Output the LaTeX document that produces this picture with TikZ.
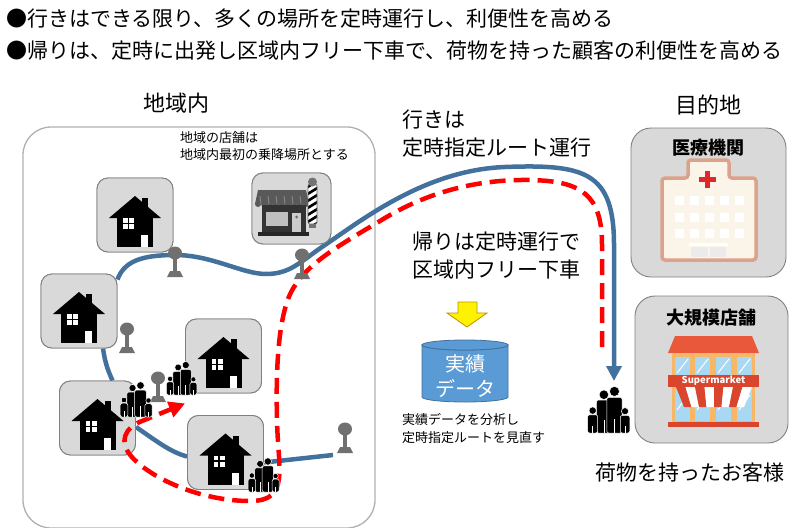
\documentclass[tikz,border=0pt]{standalone}
\usepackage{fontspec}
\setmainfont{Noto Sans CJK JP}
\usetikzlibrary{arrows.meta}

\definecolor{routeblue}{HTML}{41719C}
\definecolor{boxgray}{HTML}{D9D9D9}
\definecolor{edgegray}{HTML}{808080}
\definecolor{regiongray}{HTML}{B0B0B0}
\definecolor{stopgray}{HTML}{707070}
\definecolor{dbfill}{HTML}{5B9BD5}
\definecolor{dbedge}{HTML}{41719C}
\definecolor{arrowedge}{HTML}{BF9000}
\definecolor{hospfill}{HTML}{FBF4E8}
\definecolor{hospedge}{HTML}{DDA28C}
\definecolor{crossred}{HTML}{E3262A}
\definecolor{roofred}{HTML}{E9583B}
\definecolor{wallorange}{HTML}{F6B868}
\definecolor{glass}{HTML}{A9D9F2}
\definecolor{signred}{HTML}{DA452D}

% one figure of a family: x, head y, head radius, half width, top of body
\newcommand{\personshape}[5]{%
  \filldraw[black, draw=white, line width=0.5pt] (#1,#2) circle (#3);
  \filldraw[black, draw=white, line width=0.5pt, rounded corners=2pt]
    (#1-#4,0) rectangle (#1+#4,#5);
  \draw[white, line width=0.6pt] (#1,0) -- (#1,#5*0.4);
}

\begin{document}
\begin{tikzpicture}[x=1pt, y=-1pt,
    headline/.style={inner sep=0pt, anchor=west, font=\fontsize{21}{25}\selectfont},
    heading/.style={inner sep=0pt, font=\fontsize{22}{26}\selectfont},
    caption/.style={inner sep=0pt, align=left, anchor=west, font=\fontsize{21}{28}\selectfont},
    note/.style={inner sep=0pt, align=left, anchor=west, font=\fontsize{13}{17.5}\selectfont},
    tilelabel/.style={inner sep=0pt, font=\bfseries\fontsize{18}{20}\selectfont},
    region/.style={draw=regiongray, line width=1.3pt, rounded corners=28pt},
    tile/.style={draw=edgegray, fill=boxgray, line width=0.9pt, rounded corners=11pt,
                 minimum width=76pt, minimum height=74pt, inner sep=0pt},
    bigtile/.style={tile, rounded corners=20pt},
    outbound/.style={draw=routeblue, line width=4.5pt},
    inbound/.style={draw=red, line width=4.5pt, dash pattern=on 16pt off 8pt},
    house/.pic={
      \fill (-26,3) -- (0,-19) -- (26,3) -- cycle;
      \fill (7,-17) rectangle (13,-6);
      \fill (-18,-2) rectangle (18,32);
      \fill[white] (-12,3) rectangle (-1,14);
      \draw[line width=1.3pt] (-6.5,3) -- (-6.5,14) (-12,8.5) -- (-1,8.5);
      \fill[white] (6,20) rectangle (13,32);
    },
    busstop/.pic={
      \fill[stopgray] (0,0) ellipse [x radius=7, y radius=6.5];
      \fill[stopgray] (-2,4) rectangle (2,19);
      \fill[stopgray] (-5,18) -- (5,18) -- (8,24) -- (-8,24) -- cycle;
    },
    family/.pic={
      \personshape{-3.5}{-29}{3.6}{5.6}{-25}
      \personshape{4.5}{-31.5}{3.8}{5.8}{-27}
      \personshape{-12}{-17}{2.8}{3.8}{-13.8}
      \personshape{12.5}{-16.5}{2.7}{3.6}{-13.3}
    }
  ]
  \useasboundingbox (0,0) rectangle (791,527);

  % aims of the service
  \node[headline] (aim1) at (6,19) {●行きはできる限り、多くの場所を定時運行し、利便性を高める};
  \node[headline] (aim2) at (6,51) {●帰りは、定時に出発し区域内フリー下車で、荷物を持った顧客の利便性を高める};

  % service area
  \draw[region] (23,127) rectangle (375,528);
  \node[heading] (area) at (176,103) {地域内};
  \node[note] (shopnote) at (180,146) {地域の店舗は\\地域内最初の乗降場所とする};

  \coordinate (dest) at (614,381);
  \coordinate (pickup) at (602,347);
  \coordinate (lastpole) at (333,455);

  % tiles in the area
  \node[tile] (h1) at (135,215) {};
  \node[tile, minimum width=79pt, minimum height=71pt] (shop) at (291.5,208.5) {};
  \node[tile] (h2) at (79,311) {};
  \node[tile] (h3) at (223.5,356) {};
  \node[tile] (h4) at (97.5,418) {};
  \node[tile] (h5) at (225.5,452.5) {};

  % outbound route (fixed route)
  \draw[outbound, -{Triangle[length=15pt, width=15pt]}]
    ([yshift=-6pt]h2.north east) .. controls (124,262) and (140,255) .. (175,255)
    .. controls (212,255) and (242,274) .. (266,274)
    .. controls (290,274) and (300,262) .. (322,247)
    .. controls (362,220) and (425,170) .. (505,167)
    .. controls (585,164) and (614,172) .. (614,245) -- (dest);
  \draw[outbound] ([xshift=24pt]h2.south) to[bend right=8] ([xshift=15pt]h4.north);
  \draw[outbound] ([yshift=-9pt]h4.east) .. controls (155,440) and (170,452) .. ([yshift=-4pt]h5.west);
  \draw[outbound] ([yshift=-10pt]h5.east) -- (lastpole);

  % tiles again on top of the route ends
  \foreach \t in {h1,h2,h3,h4,h5} {
    \node[tile] at (\t) {};
    \pic at (\t) {house};
  }
  \node[tile, minimum width=79pt, minimum height=71pt] at (shop) {};

  % barber shop
  \fill[black!65] (258,190) -- (306,190) -- (309,204) -- (255,204) -- cycle;
  \foreach \x in {258,264,...,306}
    \fill[black!65] (\x,204) circle (3);
  \foreach \x in {260,268,...,300}
    \draw[black!45, line width=0.8pt] (\x,196) -- (\x+1,204);
  \fill[black!80] (262,205) rectangle (306,233);
  \fill[black!25] (266,212) rectangle (288,226);
  \fill[black!20] (292,213) rectangle (301,233);
  \fill[black!60] (296.5,217) circle (1.5);
  \fill[black!85] (258,232) rectangle (309,236);
  \begin{scope}
    \clip[rounded corners=2pt] (308,184) rectangle (317,224);
    \fill[white] (308,184) rectangle (317,224);
    \foreach \k in {0,...,6}
      \draw[black, line width=2.6pt] (306,188+\k*7) -- (319,180+\k*7);
  \end{scope}
  \draw[black!60, line width=0.6pt, rounded corners=2pt] (308,184) rectangle (317,224);
  \fill[black!55] (312.5,182) circle (4.5);
  \fill[black!55] (309,224) rectangle (316,228);

  % return route, free drop-off
  \draw[inbound, -{Triangle[length=16pt, width=16pt]}]
    (pickup) -- (602,245) .. controls (602,195) and (582,181) .. (530,180)
    .. controls (470,179) and (420,196) .. (380,221)
    .. controls (335,248) and (298,268) .. (287,302)
    .. controls (277,332) and (276,380) .. (277,420)
    .. controls (278,470) and (290,501) .. (250,501)
    .. controls (200,501) and (150,478) .. (131,456)
    .. controls (119,442) and (124,428) .. (142,421)
    -- ([yshift=-10pt]h3.south west);

  % bus stops
  \pic at (175,253) {busstop};
  \pic at (302,255) {busstop};
  \pic at (127,329) {busstop};
  \pic at (158,378) {busstop};
  \pic at (345,429) {busstop};

  % passengers
  \pic at (136,417) {family};
  \pic[scale=0.95] at (181.5,395) {family};
  \pic[scale=0.97] at (263.5,492) {family};
  \pic[scale=1.32] at (608.5,433) {family};

  % route labels
  \node[caption] (outlabel) at (402,134) {行きは\\定時指定ルート運行};
  \node[caption] (backlabel) at (412,256) {帰りは定時運行で\\区域内フリー下車};

  % records
  \filldraw[fill=yellow, draw=arrowedge, line width=0.8pt]
    (458,302) -- (477,302) -- (477,313) -- (487,313) -- (467,327) -- (447,313) -- (458,313) -- cycle;
  \filldraw[fill=dbfill, draw=dbedge, line width=0.8pt]
    (422,345) -- (422,397) arc[start angle=180, end angle=0, x radius=43, y radius=5]
    -- (508,345) arc[start angle=0, end angle=180, x radius=43, y radius=5] -- cycle;
  \filldraw[fill=dbfill, draw=dbedge, line width=0.8pt] (465,345) ellipse [x radius=43, y radius=5];
  \node[inner sep=0pt, align=center, text=white, font=\fontsize{20}{25}\selectfont] (db) at (465,376) {実績\\データ};
  \node[note] (dbnote) at (402,428.5) {実績データを分析し\\定時指定ルートを見直す};

  % destinations
  \node[heading] (goal) at (708,105) {目的地};
  \node[bigtile, minimum width=155pt, minimum height=149pt] (clinic) at (708.5,202.5) {};
  \node[bigtile, minimum width=153pt, minimum height=147pt] (market) at (711.5,369.5) {};
  \node[tilelabel] (cliniclabel) at (708,148) {医療機関};
  \node[tilelabel] (marketlabel) at (711,318) {大規模店舗};

  % hospital
  \filldraw[fill=hospfill, draw=hospedge, line width=3.5pt, rounded corners=3pt]
    (662,260) -- (662,178) -- (688,178) -- (688,160) -- (729,160) -- (729,178)
    -- (756,178) -- (756,260) -- cycle;
  \fill[crossred] (704.5,171) rectangle (709.5,188);
  \fill[crossred] (698.5,177) rectangle (715.5,182);
  \foreach \x in {679,694,709,724,739}
    \foreach \y in {200,217,233}
      \fill[white] (\x-4.5,\y-4.5) rectangle (\x+4.5,\y+4.5);
  \fill[white] (689,243) rectangle (728,246);
  \fill[white!92!black] (691,247) rectangle (708,257);
  \fill[white!92!black] (710,247) rectangle (726,257);

  % supermarket
  \fill[roofred] (675,336) -- (752,336) -- (759,353) -- (668,353) -- cycle;
  \fill[wallorange] (672,353) rectangle (755,423);
  \foreach \x in {675,695,716,737} {
    \fill[glass] (\x,357) rectangle (\x+15,375);
    \fill[glass] (\x,389) rectangle (\x+15,421);
    \draw[white, line width=1pt] (\x+2,373) -- (\x+13,359);
    \draw[white, line width=1pt] (\x+2,410) -- (\x+13,395);
  }
  \foreach \i in {0,...,7} {
    \pgfmathsetmacro{\tl}{676+\i*9.5}
    \pgfmathsetmacro{\bl}{684+\i*7.5}
    \ifodd\i
      \fill[white] (\tl,387) -- (\tl+9.5,387) -- (\bl+7.5,407) -- (\bl,407) -- cycle;
    \else
      \fill[signred] (\tl,387) -- (\tl+9.5,387) -- (\bl+7.5,407) -- (\bl,407) -- cycle;
    \fi
  }
  \fill[signred] (668,375) rectangle (759,387);
  \node[inner sep=0pt, text=white, font=\bfseries\fontsize{9.5}{10}\selectfont] (sign) at (713.5,381) {Supermarket};
  \fill[signred] (668,422) rectangle (759,427);

  \node[heading, font=\fontsize{21}{25}\selectfont] (customers) at (690,473) {荷物を持ったお客様};
\end{tikzpicture}
\end{document}
